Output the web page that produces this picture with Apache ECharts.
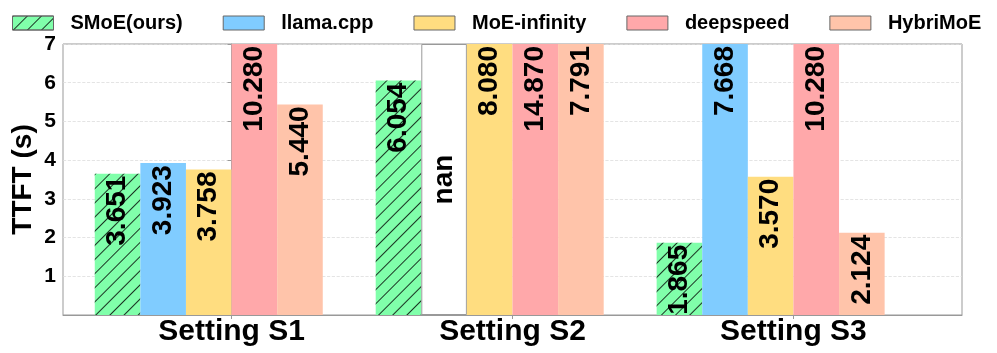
<!DOCTYPE html>
<html>
<head>
<meta charset="utf-8">
<script src="https://cdn.jsdelivr.net/npm/echarts@6/dist/echarts.min.js"></script>
<style>html,body{margin:0;padding:0;background:#fff;}#c{width:997px;height:353px;}</style>
</head>
<body>
<div id="c"></div>
<script>
const categories = ['Setting S1', 'Setting S2', 'Setting S3'];
const seriesNames = ['SMoE(ours)', 'llama.cpp', 'MoE-infinity', 'deepspeed', 'HybriMoE'];
const smoe = [3.651, 6.054, 1.865];
const llama = [3.923, null, 7.668];     // null = nan
const moeInfinity = [3.758, 8.080, 3.570];
const deepspeed = [10.280, 14.870, 10.280];
const hybrimoe = [5.440, 7.791, 2.124];
const yTicks = [1, 2, 3, 4, 5, 6, 7];

const Y_MIN = 0, Y_MAX = 7;
const colors = ['#80ffaa', '#80ccff', '#ffdd80', '#ffa8aa', '#ffc4aa'];
const FONT = "'Liberation Sans', Arial, sans-serif";
const allData = [smoe, llama, moeInfinity, deepspeed, hybrimoe];

const labelBase = {
  show: true, rotate: 90, position: 'insideTop', align: 'right', verticalAlign: 'middle',
  distance: 2, fontSize: 28, fontFamily: FONT, color: '#000', fontWeight: 'bold'
};

const series = allData.map((arr, si) => ({
  name: seriesNames[si],
  type: 'bar',
  barWidth: 45.6,
  barGap: '0%',
  clip: true,
  itemStyle: Object.assign({ color: colors[si] }, si === 0 ? {
    decal: { symbol: 'rect', symbolSize: 1, dashArrayX: [1, 0], dashArrayY: [0.9, 8.6],
             rotation: -Math.PI / 4, color: 'rgba(0,0,0,0.8)' }
  } : {}),
  label: Object.assign({}, labelBase, { formatter: p => p.value[1].toFixed(3) }),
  data: arr.map((v, i) => v === null ? {
    value: [i, Y_MAX],
    itemStyle: { color: '#fff', borderColor: '#999', borderWidth: 1, decal: null },
    label: Object.assign({}, labelBase, { position: 'inside', align: 'center', formatter: 'nan' })
  } : [i, v])
}));
// empty sixth slot so the group layout matches the original (tick between 3rd and 4th bar)
series.push({ name: '_pad', type: 'bar', barWidth: 45.6, barGap: '0%', data: [], silent: true });

const chart = echarts.init(document.getElementById('c'), null, { renderer: 'canvas' });
chart.setOption({
  animation: false,
  textStyle: { fontFamily: FONT },
  legend: {
    data: seriesNames,
    left: 12, top: 13, padding: 0,
    itemWidth: 41, itemHeight: 14, itemGap: 40,
    icon: 'rect',
    itemStyle: { borderColor: '#666', borderWidth: 1 },
    textStyle: { fontSize: 20, fontWeight: 'bold', color: '#000', fontFamily: FONT, padding: [0, 0, 0, 12] }
  },
  grid: { left: 63, right: 35, top: 44, bottom: 38, outerBoundsMode: 'none', containLabel: false,
          show: true, borderColor: '#999', borderWidth: 1, backgroundColor: 'transparent' },
  xAxis: {
    type: 'value', min: -0.6, max: 2.6,
    axisLine: { show: true, lineStyle: { color: '#999' } },
    axisTick: { show: true, customValues: [0, 1, 2], length: 4, lineStyle: { color: '#999' } },
    axisLabel: { customValues: [0, 1, 2], formatter: v => categories[Math.round(v)],
                 fontSize: 30, fontWeight: 'bold', color: '#000', fontFamily: FONT, margin: 2 },
    splitLine: { show: false }
  },
  yAxis: {
    type: 'value', min: Y_MIN, max: Y_MAX, interval: 1,
    name: 'TTFT (s)', nameLocation: 'middle', nameGap: 26, nameMoveOverlap: false,
    nameTextStyle: { fontSize: 28, fontWeight: 'bold', color: '#000', fontFamily: FONT },
    axisLine: { show: true, lineStyle: { color: '#999' } },
    axisTick: { show: true, length: 4, lineStyle: { color: '#999' } },
    axisLabel: { showMinLabel: false, fontSize: 21, fontWeight: 'bold', color: '#000', fontFamily: FONT, margin: 7,
                 formatter: v => yTicks.includes(v) ? String(v) : '' },
    splitLine: { show: true, lineStyle: { color: '#ddd', type: 'dashed', width: 0.8 } }
  },
  series: series
});
</script>
</body>
</html>
